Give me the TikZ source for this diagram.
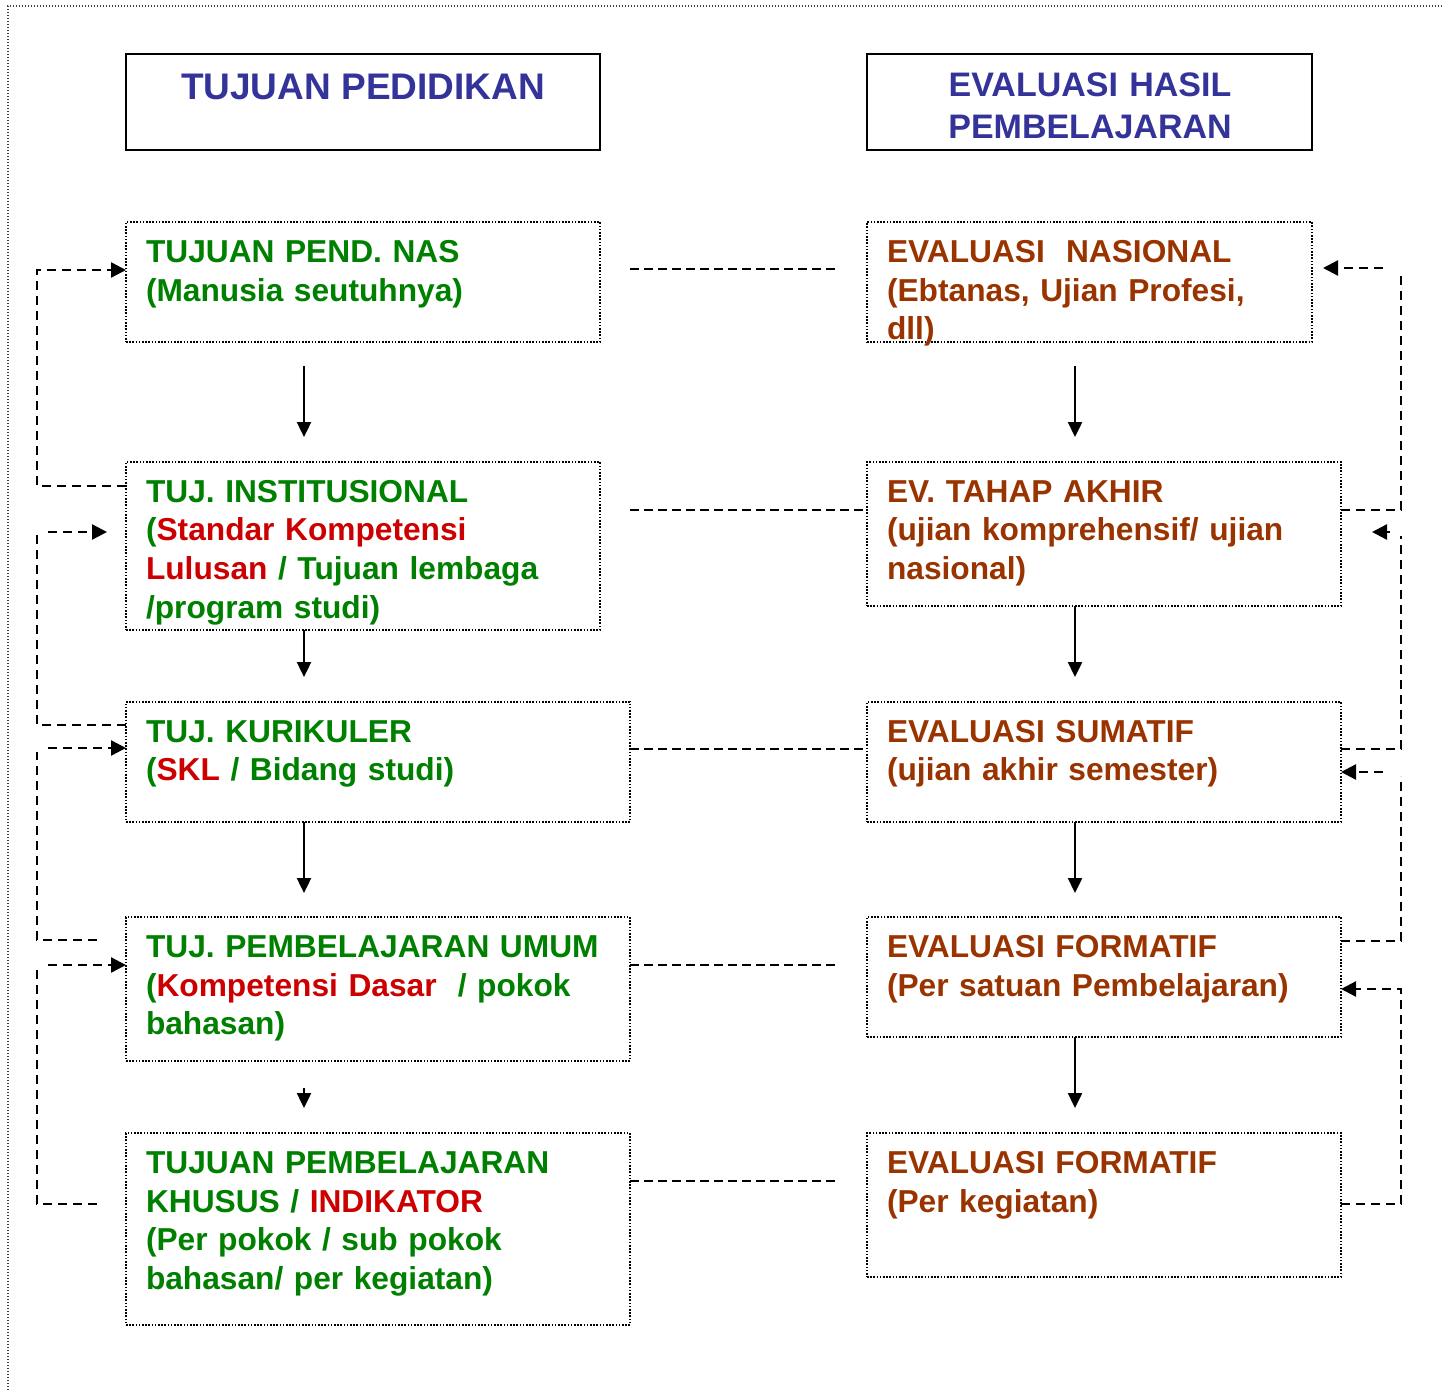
\documentclass[tikz,border=0pt]{standalone}
\usepackage{fontspec}
\setmainfont{Liberation Sans}
\usetikzlibrary{arrows.meta}
\definecolor{tgreen}{HTML}{008000}
\definecolor{tred}{HTML}{CC0000}
\definecolor{tbrown}{HTML}{993300}
\definecolor{tblue}{HTML}{333399}
\newcommand\bodyfnt{\bfseries\fontsize{31.7}{38.7}\selectfont}
\newcommand\headfnt{\bfseries\fontsize{34}{41.5}\selectfont}
\newcommand\bigheadfnt{\bfseries\fontsize{37}{41.5}\selectfont}
\begin{document}
\begin{tikzpicture}[x=1pt,y=-1pt,
  dbox/.style={draw, line width=1.6pt, dash pattern=on 1.6pt off 1.6pt, inner sep=0pt, outer sep=0pt, anchor=north west},
  hbox/.style={draw, line width=2.2pt, inner sep=0pt, outer sep=0pt, anchor=north west, minimum height=96pt},
  txt/.style={anchor=base west, inner sep=0pt, outer sep=0pt, text width=520pt, align=left, font=\bodyfnt},
  ltxt/.style={txt, text=tgreen},
  rtxt/.style={txt, text=tbrown},
  htxt/.style={anchor=base, inner sep=0pt, font=\headfnt, text=tblue},
  arr/.style={line width=2.4pt, -{Triangle[length=15pt,width=14pt]}},
  fbline/.style={line width=2.4pt, dash pattern=on 9pt off 6pt},
  fbarr/.style={fbline, -{Triangle[length=15pt,width=15pt]}},
  cline/.style={line width=2.2pt, dash pattern=on 9pt off 5pt},
  frame/.style={line width=1.3pt, dash pattern=on 1.3pt off 1.7pt, black!75}
]
\useasboundingbox (0,0) rectangle (1442,1391);
\draw[frame] (1442,6) -- (8,6) -- (8,1391);

% headers
\node[hbox, minimum width=474pt] (H1) at (126,54) {};
\node[hbox, minimum width=445pt] (H2) at (867,54) {};
\node[htxt, font=\bigheadfnt] (hL) at (363,100) {TUJUAN PEDIDIKAN};
\node[htxt, text width=440pt, align=center] (hR) at (1090,97) {EVALUASI HASIL\\PEMBELAJARAN};

% left boxes
\node[dbox, minimum width=474pt, minimum height=120pt] (L1) at (126,222) {};
\node[dbox, minimum width=474pt, minimum height=168pt] (L2) at (126,462) {};
\node[dbox, minimum width=504pt, minimum height=120pt] (L3) at (126,702) {};
\node[dbox, minimum width=504pt, minimum height=144pt] (L4) at (126,917) {};
\node[dbox, minimum width=504pt, minimum height=192pt] (L5) at (126,1133) {};
% right boxes
\node[dbox, minimum width=445pt, minimum height=120pt] (R1) at (867,222) {};
\node[dbox, minimum width=474pt, minimum height=144pt] (R2) at (867,462) {};
\node[dbox, minimum width=474pt, minimum height=120pt] (R3) at (867,702) {};
\node[dbox, minimum width=474pt, minimum height=120pt] (R4) at (867,917) {};
\node[dbox, minimum width=474pt, minimum height=144pt] (R5) at (867,1133) {};

% texts
\node[ltxt] (tL1) at (146,262.5) {TUJUAN PEND. NAS\\(Manusia seutuhnya)};
\node[ltxt] (tL2) at (146,502) {TUJ. INSTITUSIONAL\\(\textcolor{tred}{Standar Kompetensi}\\\textcolor{tred}{Lulusan} / Tujuan lembaga\\/program studi)};
\node[ltxt] (tL3) at (146,742) {TUJ. KURIKULER\\(\textcolor{tred}{SKL} / Bidang studi)};
\node[ltxt] (tL4) at (146,957.5) {TUJ. PEMBELAJARAN UMUM\\(\textcolor{tred}{Kompetensi Dasar}\ \ / pokok\\bahasan)};
\node[ltxt] (tL5) at (146,1173.5) {TUJUAN PEMBELAJARAN\\KHUSUS / \textcolor{tred}{INDIKATOR}\\(Per pokok / sub pokok\\bahasan/ per kegiatan)};
\node[rtxt] (tR1) at (887,262.5) {EVALUASI\ \ NASIONAL\\(Ebtanas, Ujian Profesi,\\dll)};
\node[rtxt] (tR2) at (887,502) {EV. TAHAP AKHIR\\(ujian komprehensif/ ujian\\nasional)};
\node[rtxt] (tR3) at (887,742) {EVALUASI SUMATIF\\(ujian akhir semester)};
\node[rtxt] (tR4) at (887,957.5) {EVALUASI FORMATIF\\(Per satuan Pembelajaran)};
\node[rtxt] (tR5) at (887,1173.5) {EVALUASI FORMATIF\\(Per kegiatan)};

% vertical arrows
\draw[arr, shorten <=24pt, shorten >=25pt] (304,0 |- L1.south) -- (304,0 |- L2.north);
\draw[arr, shorten >=25pt] (304,0 |- L2.south) -- (304,0 |- L3.north);
\draw[arr, shorten >=24pt] (304,0 |- L3.south) -- (304,0 |- L4.north);
\draw[arr, shorten <=27pt, shorten >=25pt] (304,0 |- L4.south) -- (304,0 |- L5.north);
\draw[arr, shorten <=24pt, shorten >=25pt] (1075,0 |- R1.south) -- (1075,0 |- R2.north);
\draw[arr, shorten >=25pt] (1075,0 |- R2.south) -- (1075,0 |- R3.north);
\draw[arr, shorten >=24pt] (1075,0 |- R3.south) -- (1075,0 |- R4.north);
\draw[arr, shorten >=25pt] (1075,0 |- R4.south) -- (1075,0 |- R5.north);

% inter-column dashed lines
\draw[cline, shorten <=30pt, shorten >=32pt] (L1.east |- 0,269) -- (R1.west |- 0,269);
\draw[cline, shorten <=30pt] (L2.east |- 0,510) -- (R2.west |- 0,510);
\draw[cline] (L3.east |- 0,749) -- (R3.west |- 0,749);
\draw[cline, shorten >=32pt] (L4.east |- 0,965) -- (R4.west |- 0,965);
\draw[cline, shorten >=32pt] (L5.east |- 0,1181) -- (R5.west |- 0,1181);

% left feedback
\coordinate (la2) at (48,532);
\coordinate (lb2) at (107,532);
\coordinate (la3) at (48,748);
\coordinate (la4) at (48,965);
\coordinate (ls3) at (97,940);
\coordinate (ls4) at (97,1204);
\draw[fbarr] (L2.west |- 0,486) -- (37,486) -- (37,270) -- (L1.west |- 0,270);
\draw[fbline] (L3.west |- 0,725) -- (37,725) -- (37,535);
\draw[fbarr] (la2) -- (lb2);
\draw[fbline] (ls3) -- (37,940) -- (37,752);
\draw[fbarr] (la3) -- (L3.west |- la3);
\draw[fbline] (ls4) -- (37,1204) -- (37,968);
\draw[fbarr] (la4) -- (L4.west |- la4);

% right feedback
\coordinate (ra1) at (1383,268);
\coordinate (rb1) at (1323,268);
\coordinate (ra2) at (1390,532);
\coordinate (rb2) at (1372,532);
\coordinate (ra3) at (1383,772);
\draw[fbline] (R2.east |- 0,510) -- (1401,510) -- (1401,271);
\draw[fbarr] (ra1) -- (rb1);
\draw[fbline] (R3.east |- 0,749) -- (1401,749) -- (1401,536);
\draw[fbarr] (ra2) -- (rb2);
\draw[fbline] (R4.east |- 0,941) -- (1401,941) -- (1401,776);
\draw[fbarr] (ra3) -- (R3.east |- ra3);
\draw[fbarr] (R5.east |- 0,1204) -- (1401,1204) -- (1401,989) -- (R4.east |- 0,989);
\end{tikzpicture}
\end{document}
